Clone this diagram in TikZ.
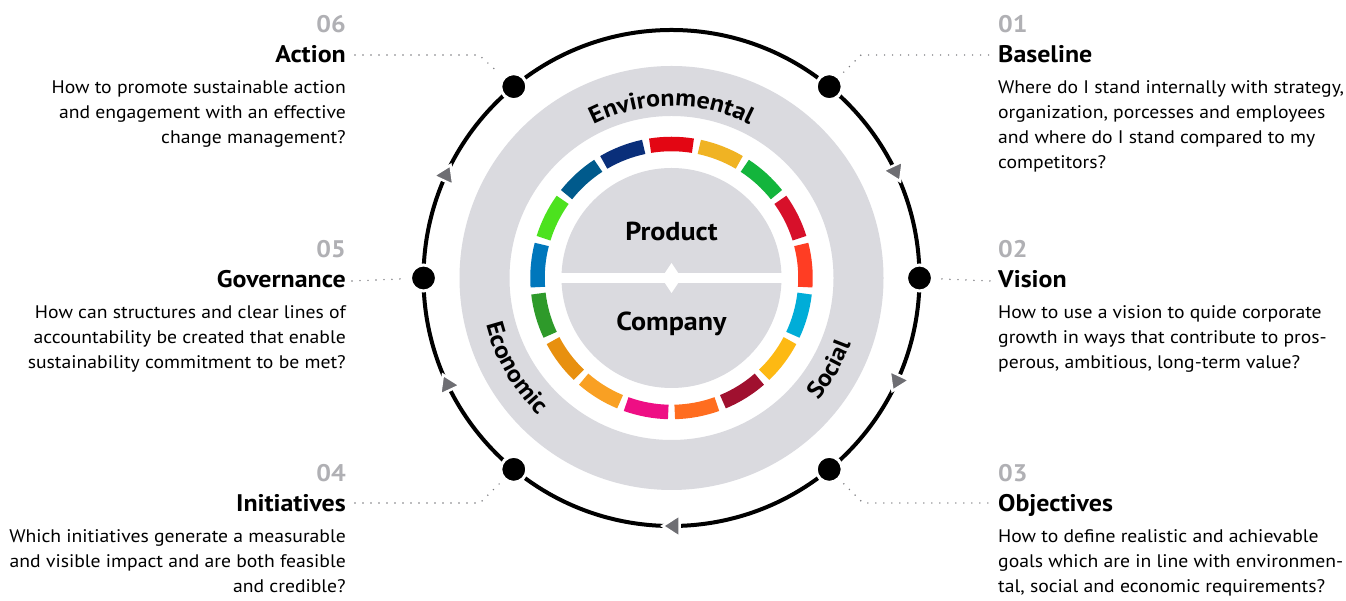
\documentclass[tikz,border=0pt]{standalone}
\usepackage{fontspec}
\setmainfont[FakeStretch=1.08]{PT Sans}
\usetikzlibrary{decorations.text}
\definecolor{ringgray}{HTML}{DADADF}
\definecolor{numgray}{HTML}{B0B0B4}
\definecolor{arrowgray}{HTML}{6E6E73}
\definecolor{dotgray}{HTML}{7A7A7E}
\definecolor{sdg1}{HTML}{E30613}
\definecolor{sdg2}{HTML}{F0B323}
\definecolor{sdg3}{HTML}{13B53C}
\definecolor{sdg4}{HTML}{D7102A}
\definecolor{sdg5}{HTML}{FF3D23}
\definecolor{sdg6}{HTML}{00ADD8}
\definecolor{sdg7}{HTML}{FDB913}
\definecolor{sdg8}{HTML}{A0102F}
\definecolor{sdg9}{HTML}{FF6D1F}
\definecolor{sdg10}{HTML}{EE0E84}
\definecolor{sdg11}{HTML}{F9A023}
\definecolor{sdg12}{HTML}{E8900F}
\definecolor{sdg13}{HTML}{2E9A2A}
\definecolor{sdg14}{HTML}{0077BC}
\definecolor{sdg15}{HTML}{4CE21E}
\definecolor{sdg16}{HTML}{005A8C}
\definecolor{sdg17}{HTML}{0A2F7A}
\newcommand{\ringfont}{\fontsize{24}{24}\selectfont\bfseries}
\begin{document}
\begin{tikzpicture}[x=1pt,y=1pt,
  dotline/.style={dotgray, line width=1.6pt, dash pattern=on 0pt off 8pt, line cap=round},
  numstyle/.style={inner sep=0pt, text=numgray, font=\fontsize{24}{28}\selectfont\bfseries},
  titlestyle/.style={inner sep=0pt, text=black, font=\fontsize{24}{28}\selectfont\bfseries},
  bodystyle/.style={inner sep=0pt, text=black, font=\fontsize{18.2}{25}\selectfont},
  centerstyle/.style={inner sep=0pt, font=\fontsize{26}{30}\selectfont\bfseries},
  stepdot/.style={circle, fill=black, draw=white, line width=3pt, minimum size=26pt, inner sep=0pt}
]
\useasboundingbox (0,0) rectangle (1346,601);
\fill[white] (0,0) rectangle (1346,601);
\coordinate (C) at (671.5,323);
% gray ring
\fill[ringgray, even odd rule] (C) circle (212) (C) circle (162);
% SDG segments
\foreach \k in {1,...,17}{
  \pgfmathsetmacro{\sa}{90-(\k-1)*360/17+9.2}
  \pgfmathsetmacro{\ea}{90-(\k-1)*360/17-9.2}
  \draw[sdg\k, line width=14.5pt] ([shift={(\sa:134)}]C) arc[start angle=\sa, end angle=\ea, radius=134];
}
% center disk
\fill[ringgray] (C) circle (110);
\fill[white] ([shift={(-111,-5)}]C) rectangle ([shift={(111,5)}]C);
\fill[white] ([shift={(0,15)}]C) -- ([shift={(10,0)}]C) -- ([shift={(0,-15)}]C) -- ([shift={(-10,0)}]C) -- cycle;
\node[centerstyle] (prod) at ([yshift=46.5]C) {Product};
\node[centerstyle] (comp) at ([yshift=-45.5]C) {Company};
% curved labels
\path[decorate, decoration={text along path, text={|\ringfont|Environmental}, text align=center}]
  ([shift={(130:172)}]C) arc[start angle=130, end angle=50, radius=172];
\path[decorate, decoration={text along path, text={|\ringfont|Economic}, text align=center}]
  ([shift={(180:191)}]C) arc[start angle=180, end angle=240, radius=191];
\path[decorate, decoration={text along path, text={|\ringfont|Social}, text align=center}]
  ([shift={(-60:191)}]C) arc[start angle=-60, end angle=0, radius=191];
% outer cycle
\draw[line width=4pt] (C) circle (248);
\foreach \a [count=\i] in {25,-25,-90,205,155}{
  \path (C) ++(\a:248) coordinate (arr\i);
  \filldraw[fill=arrowgray, draw=white, line width=2.5pt, shift={(arr\i)}, rotate=\a-90]
    (9,0) -- (-8,11) -- (-8,-11) -- cycle;
}
\node[stepdot] (d1) at ([shift={(50.5:248)}]C) {};
\node[stepdot] (d2) at ([shift={(0:248)}]C) {};
\node[stepdot] (d3) at ([shift={(-50.5:248)}]C) {};
\node[stepdot] (d4) at ([shift={(230.5:248)}]C) {};
\node[stepdot] (d5) at ([shift={(180:248)}]C) {};
\node[stepdot] (d6) at ([shift={(129.5:248)}]C) {};
% dotted leaders
\coordinate (l1a) at (861,546); \coordinate (l1b) at (990,546);
\coordinate (l2a) at (990,320);
\coordinate (l3a) at (863,98); \coordinate (l3b) at (990,98);
\coordinate (l4a) at (355,98); \coordinate (l4b) at (480,98);
\coordinate (l5a) at (352,320);
\coordinate (l6a) at (355,546); \coordinate (l6b) at (479,546);
\draw[dotline, shorten <=6pt] (d1) -- (l1a) -- (l1b);
\draw[dotline, shorten <=8pt] (d2) -- (l2a);
\draw[dotline, shorten <=6pt] (d3) -- (l3a) -- (l3b);
\draw[dotline, shorten >=6pt] (l4a) -- (l4b) -- (d4);
\draw[dotline, shorten >=8pt] (l5a) -- (d5);
\draw[dotline, shorten >=6pt] (l6a) -- (l6b) -- (d6);
% right text blocks
\node[numstyle, anchor=base west] (n1) at (998,568.5) {01};
\node[titlestyle, anchor=base west] (t1) at (998,538.5) {Baseline};
\node[bodystyle, anchor=base west] (b1) at (998,507.5) {\begin{tabular}[t]{@{}l@{}}Where do I stand internally with strategy,\\ organization, porcesses and employees\\ and where do I stand compared to my\\ competitors?\end{tabular}};
\node[numstyle, anchor=base west] (n2) at (998,343) {02};
\node[titlestyle, anchor=base west] (t2) at (998,313) {Vision};
\node[bodystyle, anchor=base west] (b2) at (998,282) {\begin{tabular}[t]{@{}l@{}}How to use a vision to quide corporate\\ growth in ways that contribute to pros-\\ perous, ambitious, long-term value?\end{tabular}};
\node[numstyle, anchor=base west] (n3) at (998,119.5) {03};
\node[titlestyle, anchor=base west] (t3) at (998,89.5) {Objectives};
\node[bodystyle, anchor=base west] (b3) at (998,58.5) {\begin{tabular}[t]{@{}l@{}}How to define realistic and achievable\\ goals which are in line with environmen-\\ tal, social and economic requirements?\end{tabular}};
% left text blocks
\node[numstyle, anchor=base east] (n6) at (346,568.5) {06};
\node[titlestyle, anchor=base east] (t6) at (346,538.5) {Action};
\node[bodystyle, anchor=base east] (b6) at (346,507.5) {\begin{tabular}[t]{@{}r@{}}How to promote sustainable action\\ and engagement with an effective\\ change management?\end{tabular}};
\node[numstyle, anchor=base east] (n5) at (346,343) {05};
\node[titlestyle, anchor=base east] (t5) at (346,313) {Governance};
\node[bodystyle, anchor=base east] (b5) at (346,282) {\begin{tabular}[t]{@{}r@{}}How can structures and clear lines of\\ accountability be created that enable\\ sustainability commitment to be met?\end{tabular}};
\node[numstyle, anchor=base east] (n4) at (346,119.5) {04};
\node[titlestyle, anchor=base east] (t4) at (346,89.5) {Initiatives};
\node[bodystyle, anchor=base east] (b4) at (346,58.5) {\begin{tabular}[t]{@{}r@{}}Which initiatives generate a measurable\\ and visible impact and are both feasible\\ and credible?\end{tabular}};
\end{tikzpicture}
\end{document}
